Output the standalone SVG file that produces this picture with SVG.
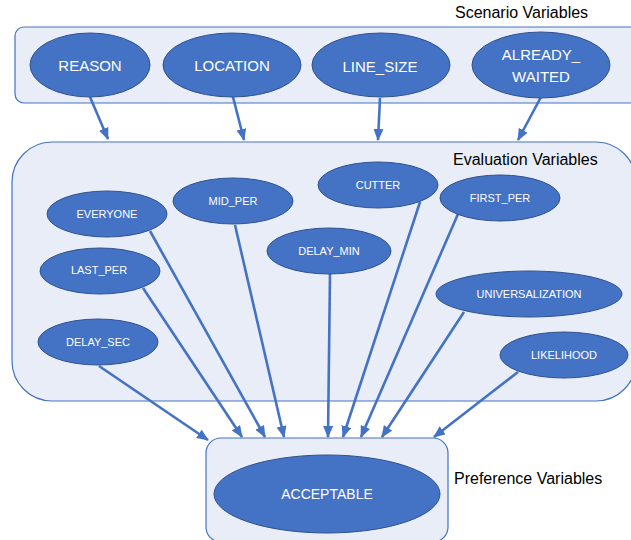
<svg xmlns="http://www.w3.org/2000/svg" width="631" height="540" viewBox="0 0 631 540">
  <style>
    .panel { fill: #E9EDF7; stroke: #4472C4; stroke-width: 1.2; }
    .node { fill: #4472C4; stroke: #2F528F; stroke-width: 1; }
    .lbl { font-family: "Liberation Sans", Arial, sans-serif; fill: #FFFFFF; text-anchor: middle; dominant-baseline: central; }
    .big { font-size: 15px; }
    .small { font-size: 11px; }
    .cap { font-family: "Liberation Sans", Arial, sans-serif; font-size: 16px; fill: #000000; dominant-baseline: central; }
    .edge { stroke: #4472C4; stroke-width: 2.6; fill: none; marker-end: url(#arrow); }
  </style>
  <defs>
    <marker id="arrow" markerUnits="userSpaceOnUse" markerWidth="13" markerHeight="11" refX="11" refY="5" orient="auto">
      <path d="M0,0 L12,5 L0,10 z" fill="#4472C4"/>
    </marker>
  </defs>

  <rect width="631" height="540" fill="#FFFFFF"/>

  <!-- group panels -->
  <g id="panels">
    <rect class="panel" x="15" y="27" width="640" height="76" rx="9"/>
    <rect class="panel" x="12" y="142" width="624" height="259" rx="40"/>
    <rect class="panel" x="206" y="438" width="242" height="104" rx="15"/>
    <text class="cap" x="455" y="12">Scenario Variables</text>
    <text class="cap" x="453" y="159">Evaluation Variables</text>
    <text class="cap" x="454" y="478">Preference Variables</text>
  </g>

  <!-- connectors -->
  <g id="connectors">
    <line class="edge" x1="90" y1="97" x2="108" y2="139"/>
    <line class="edge" x1="233" y1="97" x2="244" y2="140"/>
    <line class="edge" x1="380" y1="98" x2="378" y2="140"/>
    <line class="edge" x1="541" y1="97" x2="518" y2="140"/>

    <line class="edge" x1="99" y1="366" x2="208" y2="440"/>
    <line class="edge" x1="143" y1="288" x2="242" y2="437"/>
    <line class="edge" x1="150" y1="231" x2="265" y2="437"/>
    <line class="edge" x1="235" y1="225" x2="284" y2="437"/>
    <line class="edge" x1="330" y1="273" x2="328" y2="437"/>
    <line class="edge" x1="420" y1="202" x2="343" y2="437"/>
    <line class="edge" x1="458" y1="214" x2="361" y2="437"/>
    <line class="edge" x1="464" y1="312" x2="382" y2="437"/>
    <line class="edge" x1="518" y1="372" x2="434" y2="437"/>
  </g>

  <!-- scenario variables -->
  <g id="reason">
    <ellipse class="node" cx="90" cy="65" rx="60" ry="32"/>
    <text class="lbl big" x="90" y="65">REASON</text>
  </g>
  <g id="location">
    <ellipse class="node" cx="232" cy="65" rx="69" ry="32"/>
    <text class="lbl big" x="232" y="65">LOCATION</text>
  </g>
  <g id="line_size">
    <ellipse class="node" cx="381" cy="65" rx="69" ry="32"/>
    <text class="lbl big" x="380" y="66">LINE_SIZE</text>
  </g>
  <g id="already_waited">
    <ellipse class="node" cx="541" cy="65" rx="69" ry="33"/>
    <text class="lbl big" x="541" y="54">ALREADY_</text>
    <text class="lbl big" x="541" y="76">WAITED</text>
  </g>

  <!-- evaluation variables -->
  <g id="everyone">
    <ellipse class="node" cx="107" cy="214" rx="60" ry="23"/>
    <text class="lbl small" x="107" y="214">EVERYONE</text>
  </g>
  <g id="mid_per">
    <ellipse class="node" cx="233" cy="201" rx="60" ry="23"/>
    <text class="lbl small" x="233" y="201">MID_PER</text>
  </g>
  <g id="cutter">
    <ellipse class="node" cx="378" cy="185" rx="60" ry="23"/>
    <text class="lbl small" x="378" y="185">CUTTER</text>
  </g>
  <g id="first_per">
    <ellipse class="node" cx="500" cy="198" rx="60" ry="23"/>
    <text class="lbl small" x="500" y="198">FIRST_PER</text>
  </g>
  <g id="delay_min">
    <ellipse class="node" cx="329" cy="251" rx="62" ry="23"/>
    <text class="lbl small" x="329" y="251">DELAY_MIN</text>
  </g>
  <g id="last_per">
    <ellipse class="node" cx="100" cy="271" rx="60" ry="23"/>
    <text class="lbl small" x="99" y="270">LAST_PER</text>
  </g>
  <g id="universalization">
    <ellipse class="node" cx="529" cy="294" rx="93" ry="23"/>
    <text class="lbl small" x="529" y="294">UNIVERSALIZATION</text>
  </g>
  <g id="delay_sec">
    <ellipse class="node" cx="98" cy="342" rx="60" ry="23"/>
    <text class="lbl small" x="98" y="342">DELAY_SEC</text>
  </g>
  <g id="likelihood">
    <ellipse class="node" cx="564" cy="355" rx="64" ry="23"/>
    <text class="lbl small" x="564" y="355">LIKELIHOOD</text>
  </g>

  <!-- preference variable -->
  <g id="acceptable">
    <ellipse class="node" cx="327" cy="494" rx="113" ry="39"/>
    <text class="lbl" x="327" y="494" font-size="14">ACCEPTABLE</text>
  </g>
</svg>
